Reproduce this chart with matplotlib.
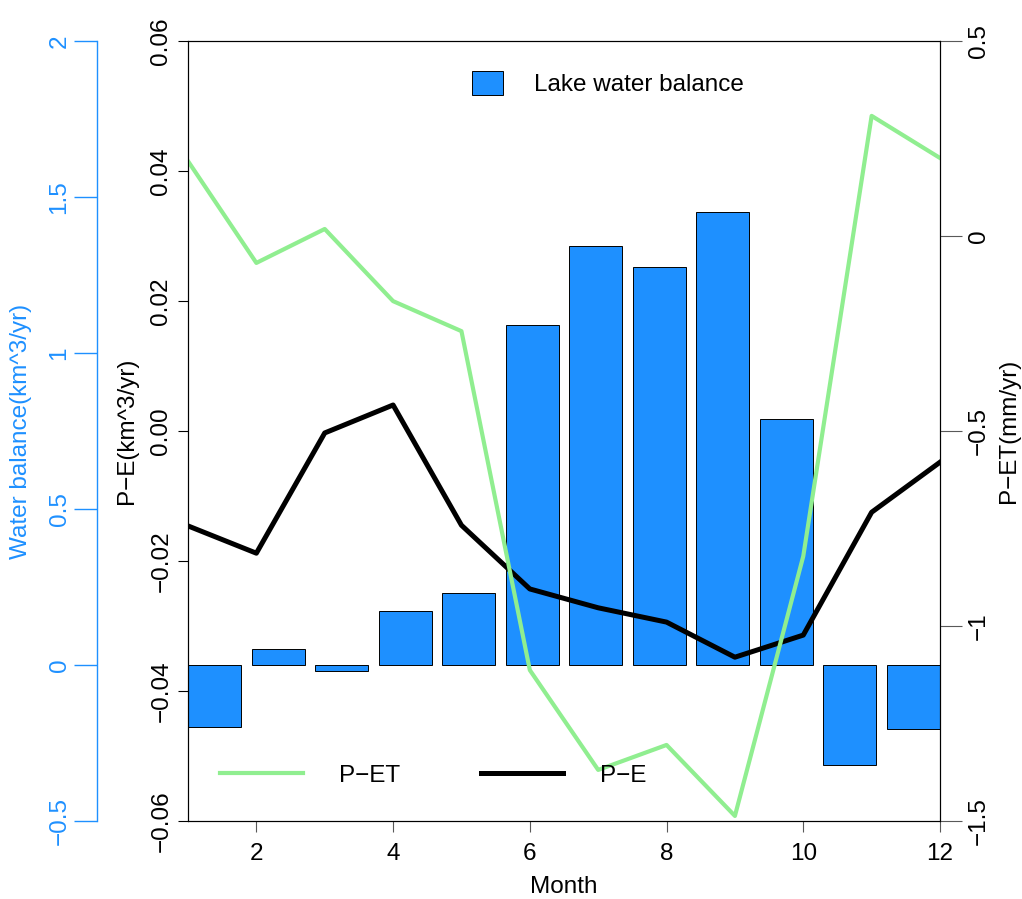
import numpy as np
import matplotlib.pyplot as plt

plt.rcParams['font.family'] = ['Liberation Sans', 'DejaVu Sans']
plt.rcParams['font.size'] = 17.5
plt.rcParams['axes.unicode_minus'] = True

months = np.arange(1, 13)
lake_balance = [-0.20, 0.05, -0.02, 0.173, 0.23, 1.09, 1.343, 1.276, 1.452, 0.788, -0.32, -0.205]
p_minus_e = [-0.0146, -0.0188, -0.0003, 0.0040, -0.0145, -0.0243, -0.0272, -0.0294, -0.0348, -0.0314, -0.0125, -0.0048]
p_minus_et = [0.192, -0.069, 0.018, -0.167, -0.244, -1.113, -1.369, -1.305, -1.487, -0.821, 0.308, 0.200]

pe_ticks = [-0.06, -0.04, -0.02, 0.0, 0.02, 0.04, 0.06]
pe_labels = ['\u22120.06', '\u22120.04', '\u22120.02', '0.00', '0.02', '0.04', '0.06']
pet_ticks = [-1.5, -1.0, -0.5, 0.0, 0.5]
pet_labels = ['\u22121.5', '\u22121', '\u22120.5', '0', '0.5']
wb_ticks = [-0.5, 0, 0.5, 1, 1.5, 2]
wb_labels = ['\u22120.5', '0', '0.5', '1', '1.5', '2']
month_ticks = [2, 4, 6, 8, 10, 12]

blue = '#1E90FF'
green = '#90EE90'

fig = plt.figure(figsize=(10.22, 8.99), dpi=100)
pos = [188 / 1022, 1 - 821 / 899, 752 / 1022, 780 / 899]

# bars on their own axes (barplot-like spacing)
axb = fig.add_axes(pos)
xb = 0.7 + 1.2 * np.arange(len(lake_balance))
bars = axb.bar(xb, lake_balance, width=1.0, color=blue, edgecolor='black',
               linewidth=0.7, label='Lake water balance')
axb.set_xlim(0.2, 14.4)
axb.set_ylim(-0.5, 2)
for s in ['top', 'right', 'bottom']:
    axb.spines[s].set_visible(False)
axb.spines['left'].set_position(('axes', (97 - 188) / 752))
axb.spines['left'].set_color(blue)
axb.spines['left'].set_linewidth(1.0)
axb.set_xticks([])
axb.set_yticks(wb_ticks)
axb.set_yticklabels(wb_labels)
axb.tick_params(axis='y', colors=blue, length=16.5, width=1.0, pad=2.5,
                labelrotation=90, labelcolor=blue)
for t in axb.get_yticklabels():
    t.set_va('center')
axb.set_ylabel('Water balance(km^3/yr)', color=blue, labelpad=12)
axb.legend(loc='center', bbox_to_anchor=(0.558, 0.945), frameon=False,
           handlelength=1.27, handleheight=1.1, handletextpad=1.27, borderpad=0)

# P-E on main axes
ax = fig.add_axes(pos)
ax.patch.set_visible(False)
l_pe, = ax.plot(months, p_minus_e, color='black', lw=3.6, label='P\u2212E', solid_joinstyle='round')
ax.set_xlim(1, 12)
ax.set_ylim(-0.06, 0.06)
ax.set_xticks(month_ticks)
ax.set_yticks(pe_ticks)
ax.set_yticklabels(pe_labels)
ax.tick_params(axis='y', length=7.2, width=0.8, pad=4, labelrotation=90)
ax.tick_params(axis='x', length=8, width=0.8, pad=8, color='0.35')
for t in ax.get_yticklabels():
    t.set_va('center')
ax.set_xlabel('Month', labelpad=8)
ax.set_ylabel('P\u2212E(km^3/yr)', labelpad=9)

# P-ET on right axis
ax2 = ax.twinx()
l_pet, = ax2.plot(months, p_minus_et, color=green, lw=3, label='P\u2212ET', solid_joinstyle='round')
ax2.set_ylim(-1.5, 0.5)
ax2.set_yticks(pet_ticks)
ax2.set_yticklabels(pet_labels)
ax2.tick_params(axis='y', length=16, width=0.8, pad=4, labelrotation=90, color='0.35')
for t in ax2.get_yticklabels():
    t.set_va('center')
ax2.set_ylabel('P\u2212ET(mm/yr)', labelpad=6)

ax2.legend(handles=[l_pet, l_pe], loc='center', bbox_to_anchor=(0.326, 0.058),
           ncol=2, frameon=False, handlelength=3.4, handletextpad=1.5,
           columnspacing=3.3, borderpad=0)

fig.savefig('out.png', dpi=100)
